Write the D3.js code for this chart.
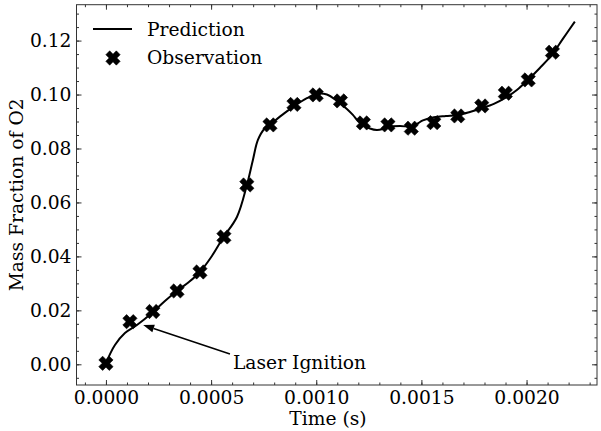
<!DOCTYPE html>
<html>
<head>
<meta charset="utf-8">
<script src="https://cdnjs.cloudflare.com/ajax/libs/d3/7.8.5/d3.min.js"></script>
<style>
  body { margin: 0; background: #fff; }
  svg text { font-family: "DejaVu Serif", serif; fill: #000; }
</style>
</head>
<body>
<div id="chart"></div>
<script>
// observations (time in s, mass fraction of O2)
var obsTime = [0, 0.000114, 0.000223, 0.000338, 0.000447, 0.000561, 0.000670, 0.000780, 0.000894, 0.001000,
  0.001115, 0.001224, 0.001341, 0.001452, 0.001559, 0.001673, 0.001787, 0.001899, 0.002008, 0.002123];
var obsMass = [0.00037, 0.01580, 0.01958, 0.02718, 0.03422, 0.04720, 0.06648, 0.08873, 0.09633, 0.09985,
  0.09763, 0.08947, 0.08873, 0.08751, 0.08958, 0.09206, 0.09577, 0.10048, 0.10541, 0.11568];

// prediction curve
var predTime = [0, 0.0000428, 0.0000903, 0.0001474, 0.0002187, 0.0002805, 0.0003375, 0.0003946, 0.0004469,
  0.0005039, 0.0005562, 0.0006228, 0.0006703, 0.0006988, 0.0007226, 0.0007559, 0.0007797, 0.0008272,
  0.0008938, 0.0009555, 0.0009983, 0.0010506, 0.0011029, 0.0011457, 0.0011742, 0.0011980, 0.0012218,
  0.0012551, 0.0012883, 0.0013168, 0.0013406, 0.0013977, 0.0014500, 0.0014785, 0.0015070, 0.0015593,
  0.0016164, 0.0016734, 0.0017305, 0.0017875, 0.0018445, 0.0018968, 0.0019539, 0.0020062, 0.0020632,
  0.0021203, 0.0021726, 0.0022296];
var predMass = [0.00048, 0.00716, 0.01161, 0.01458, 0.01903, 0.02347, 0.02718, 0.03051, 0.03422,
  0.04015, 0.04683, 0.05462, 0.06648, 0.07575, 0.08317, 0.08751, 0.08873, 0.09180,
  0.09559, 0.09863, 0.10022, 0.10004, 0.09737, 0.09466, 0.09244, 0.09021, 0.08873,
  0.08743, 0.08687, 0.08725, 0.08799, 0.08836, 0.08810, 0.08910, 0.09040, 0.09158,
  0.09206, 0.09244, 0.09355, 0.09492, 0.09651, 0.09863, 0.10170, 0.10541, 0.10986,
  0.11468, 0.12061, 0.12703];

var xTicks = [0, 0.0005, 0.0010, 0.0015, 0.0020];
var yTicks = [0, 0.02, 0.04, 0.06, 0.08, 0.10, 0.12];
var legendLabels = ["Prediction", "Observation"];
var annotText = "Laser Ignition";
var annotPoint = [0.000177, 0.01457];
var annotTextPos = [0.000604, 0.0005];

var width = 601, height = 431;
var margin = {top: 4.7, right: 4, bottom: 46, left: 76.5};
var fontSize = "18.7px";

var svg = d3.select("#chart").append("svg")
  .attr("width", width)
  .attr("height", height);

var x = d3.scaleLinear()
  .domain([-0.00014, 0.002335])
  .range([margin.left, width - margin.right]);
var y = d3.scaleLinear()
  .domain([-0.00767, 0.1333])
  .range([height - margin.bottom, margin.top]);

var minorX = d3.range(-1, 24).map(function(i) { return i * 0.0001; });
var minorY = d3.range(-1, 27).map(function(i) { return i * 0.005; });
var axisColor = "#333";

function styleAxis(g) {
  g.select(".domain").remove();
  g.selectAll(".tick line").attr("stroke", axisColor);
  g.selectAll(".tick text").style("font-size", fontSize).style("font-family", "DejaVu Serif");
}

// bottom
svg.append("g")
  .attr("transform", "translate(0," + (height - margin.bottom) + ")")
  .call(d3.axisBottom(x).tickValues(minorX).tickSize(-2.5).tickFormat(""))
  .call(styleAxis);
svg.append("g")
  .attr("transform", "translate(0," + (height - margin.bottom) + ")")
  .call(d3.axisBottom(x).tickValues(xTicks).tickSize(-5).tickPadding(6).tickFormat(d3.format(".4f")))
  .call(styleAxis);
// top
svg.append("g")
  .attr("transform", "translate(0," + margin.top + ")")
  .call(d3.axisTop(x).tickValues(minorX).tickSize(-2.5).tickFormat(""))
  .call(styleAxis);
svg.append("g")
  .attr("transform", "translate(0," + margin.top + ")")
  .call(d3.axisTop(x).tickValues(xTicks).tickSize(-5).tickFormat(""))
  .call(styleAxis);
// left
svg.append("g")
  .attr("transform", "translate(" + margin.left + ",0)")
  .call(d3.axisLeft(y).tickValues(minorY).tickSize(-2.5).tickFormat(""))
  .call(styleAxis);
svg.append("g")
  .attr("transform", "translate(" + margin.left + ",0)")
  .call(d3.axisLeft(y).tickValues(yTicks).tickSize(-5).tickPadding(5).tickFormat(d3.format(".2f")))
  .call(styleAxis);
// right
svg.append("g")
  .attr("transform", "translate(" + (width - margin.right) + ",0)")
  .call(d3.axisRight(y).tickValues(minorY).tickSize(-2.5).tickFormat(""))
  .call(styleAxis);
svg.append("g")
  .attr("transform", "translate(" + (width - margin.right) + ",0)")
  .call(d3.axisRight(y).tickValues(yTicks).tickSize(-5).tickFormat(""))
  .call(styleAxis);

// frame
svg.append("rect")
  .attr("x", margin.left)
  .attr("y", margin.top)
  .attr("width", width - margin.left - margin.right)
  .attr("height", height - margin.top - margin.bottom)
  .attr("fill", "none")
  .attr("stroke", axisColor)
  .attr("stroke-width", 1);

// prediction line
var predData = predTime.map(function(t, i) { return [t, predMass[i]]; });
var line = d3.line()
  .x(function(d) { return x(d[0]); })
  .y(function(d) { return y(d[1]); })
  .curve(d3.curveCatmullRom.alpha(0.5));
svg.append("path")
  .datum(predData)
  .attr("d", line)
  .attr("fill", "none")
  .attr("stroke", "#000")
  .attr("stroke-width", 2);

// filled X marker like matplotlib 'X'
function xMarker(r, w) {
  var pts = [[w, w], [w, r], [-w, r], [-w, w], [-r, w], [-r, -w], [-w, -w], [-w, -r], [w, -r], [w, -w], [r, -w], [r, w]];
  var c = Math.SQRT1_2;
  return "M" + pts.map(function(p) {
    return [(p[0] - p[1]) * c, (p[0] + p[1]) * c].map(function(v) { return v.toFixed(2); }).join(",");
  }).join("L") + "Z";
}
var markerPath = xMarker(7.4, 2.7);

var obsData = obsTime.map(function(t, i) { return [t, obsMass[i]]; });
svg.selectAll(".obs")
  .data(obsData)
  .enter()
  .append("path")
  .attr("class", "obs")
  .attr("d", markerPath)
  .attr("transform", function(d) { return "translate(" + x(d[0]) + "," + y(d[1]) + ")"; })
  .attr("fill", "#000")
  .attr("stroke", "#000")
  .attr("stroke-width", 0.6)
  .attr("stroke-linejoin", "round");

// annotation
var tx = x(annotTextPos[0]), ty = y(annotTextPos[1]);
svg.append("text")
  .attr("x", tx)
  .attr("y", ty)
  .attr("dominant-baseline", "central")
  .style("font-size", fontSize)
  .text(annotText);

var ax0 = tx - 3, ay0 = ty - 9;
var ax1 = x(annotPoint[0]), ay1 = y(annotPoint[1]);
var ang = Math.atan2(ay1 - ay0, ax1 - ax0);
var headLen = 11, headW = 4;
var bx = ax1 - headLen * Math.cos(ang), by = ay1 - headLen * Math.sin(ang);
svg.append("line")
  .attr("x1", ax0).attr("y1", ay0)
  .attr("x2", bx).attr("y2", by)
  .attr("stroke", "#000")
  .attr("stroke-width", 1.5);
svg.append("path")
  .attr("d", "M" + ax1 + "," + ay1 +
    "L" + (bx + headW * Math.sin(ang)) + "," + (by - headW * Math.cos(ang)) +
    "L" + (bx - headW * Math.sin(ang)) + "," + (by + headW * Math.cos(ang)) + "Z")
  .attr("fill", "#000");

// legend
var legend = svg.append("g");
legend.append("line")
  .attr("x1", 93).attr("x2", 132)
  .attr("y1", 29).attr("y2", 29)
  .attr("stroke", "#000")
  .attr("stroke-width", 2);
legend.append("path")
  .attr("d", markerPath)
  .attr("transform", "translate(113,58)")
  .attr("fill", "#000")
  .attr("stroke", "#000")
  .attr("stroke-width", 0.6)
  .attr("stroke-linejoin", "round");
legend.selectAll("text")
  .data(legendLabels)
  .enter()
  .append("text")
  .attr("x", 147)
  .attr("y", function(d, i) { return 29 + i * 28.5; })
  .attr("dominant-baseline", "central")
  .style("font-size", fontSize)
  .text(function(d) { return d; });

// axis labels
svg.append("text")
  .attr("x", 328)
  .attr("y", height - 6)
  .attr("text-anchor", "middle")
  .style("font-size", fontSize)
  .text("Time (s)");

svg.append("text")
  .attr("transform", "translate(16," + ((margin.top + height - margin.bottom) / 2) + ") rotate(-90)")
  .attr("text-anchor", "middle")
  .attr("dominant-baseline", "central")
  .style("font-size", fontSize)
  .text("Mass Fraction of O2");
</script>
</body>
</html>
